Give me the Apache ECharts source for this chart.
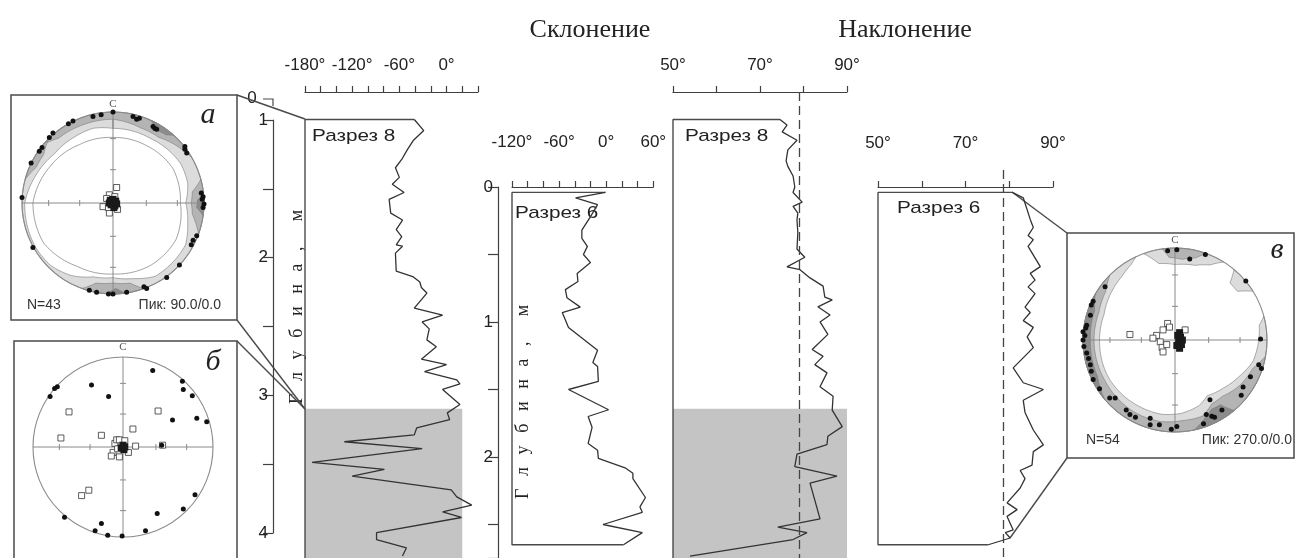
<!DOCTYPE html>
<html><head><meta charset="utf-8">
<script src="https://cdn.jsdelivr.net/npm/echarts@6/dist/echarts.min.js"></script>
<style>html,body{margin:0;padding:0;background:#fff}#c{width:1295px;height:558px}</style>
</head><body><div id="c"></div><script>
// ---------- DATA ----------
// Склонение, Разрез 8 (value deg, depth m)
const dec8Value=[-41,-29,-42,-50,-57,-65,-60,-69,-54,-73,-71,-56,-64,-57,-64,-56,-65,-64,-43,-34,-32,-25,-41,-5,-31,-22,-25,-13,-32,0,-28,13,17,-5,17,1,4,-38,-41,-130,-31,-171,-79,-120,6,13,32,-5,19,-89,-89,-51,-56];
const dec8Depth=[1.00,1.08,1.15,1.22,1.29,1.35,1.42,1.47,1.53,1.58,1.68,1.73,1.80,1.85,1.91,1.92,1.97,2.10,2.14,2.18,2.22,2.26,2.37,2.42,2.47,2.52,2.60,2.65,2.74,2.78,2.83,2.89,2.92,2.96,3.07,3.13,3.18,3.24,3.29,3.34,3.39,3.49,3.54,3.59,3.69,3.74,3.80,3.85,3.89,4.00,4.05,4.11,4.17];
// Склонение, Разрез 6
const dec6Value=[-1,-39,-11,-20,-31,-31,-24,-29,-20,-37,-36,-52,-50,-33,-56,-48,-33,-11,-17,-11,-10,-48,3,-23,-18,-23,-11,-10,24,34,34,50,43,46,-4,46,22];
const dec6Depth=[0.04,0.08,0.13,0.22,0.32,0.38,0.44,0.50,0.56,0.64,0.70,0.76,0.82,0.89,0.93,1.04,1.11,1.21,1.30,1.33,1.44,1.50,1.65,1.70,1.78,1.90,1.95,2.01,2.08,2.12,2.16,2.30,2.37,2.41,2.50,2.56,2.65];
// Наклонение, Разрез 8
const inc8Value=[74.6,76.2,75.1,78.5,76.4,76.0,76.4,77.6,78.0,77.6,79.7,77.6,78.7,78.5,78.7,78.5,80.3,76.2,79.2,81.5,84.5,84.9,86.6,83.3,86.1,83.8,85.6,82.0,84.5,82.6,85.4,83.8,86.8,86.6,88.9,85.6,85.4,78.5,78.0,87.7,81.5,83.8,74.1,80.8,77.6,53.9];
const inc8Depth=[1.00,1.04,1.09,1.15,1.22,1.30,1.34,1.41,1.49,1.53,1.60,1.63,1.68,1.73,1.82,1.94,2.00,2.07,2.09,2.15,2.21,2.29,2.31,2.36,2.42,2.47,2.56,2.67,2.72,2.78,2.84,2.94,3.01,3.11,3.23,3.30,3.36,3.43,3.52,3.59,3.64,3.90,3.96,4.00,4.05,4.17];
// Наклонение, Разрез 6
const inc6Value=[80.7,83.2,84.8,85.5,84.3,85.5,84.3,87.1,84.8,85.9,84.3,85.9,83.6,84.8,83.2,85.5,84.1,85.5,80.9,83.2,87.8,83.2,83.6,85.5,87.8,85.5,85.2,82.5,83.6,82.5,79.5,81.8,79.5,80.9,79.1,80.2,75.2];
const inc6Depth=[0.04,0.08,0.24,0.30,0.36,0.39,0.44,0.59,0.64,0.69,0.74,0.79,0.89,0.93,0.99,1.04,1.11,1.19,1.34,1.45,1.50,1.58,1.67,1.80,1.91,1.96,2.06,2.10,2.16,2.23,2.34,2.39,2.44,2.54,2.56,2.60,2.65];
const inc8Mean=79.0, inc6Mean=78.6;
const shade8Top=3.1, shadeDecRight=20, shadeIncRight=90;
// axis tick labels
const decTicks8=[-180,-120,-60,0];
const decTicks6=[-120,-60,0,60];
const incTicks=[50,70,90];
const depthTicks8=[1,2,3,4];
const depthTicks6=[0,1,2];
// Stereonet а (unit-circle coords)
const dotsA=[[0,1.0],[-0.13,0.97],[-0.22,0.95],[-0.44,0.90],[-0.49,0.87],[-0.66,0.77],[-0.70,0.72],[-0.78,0.61],[-0.81,0.57],[-0.90,0.44],[-1.0,0.06],[-0.88,-0.49],[-0.26,-0.96],[-0.18,-0.98],[-0.05,-1.0],[0,-1.0],[0.15,-0.98],[0.34,-0.92],[0.37,-0.94],[0.59,-0.82],[0.73,-0.68],[0.86,-0.46],[0.88,-0.41],[0.92,-0.36],[0.99,-0.05],[1.0,-0.01],[0.98,0.04],[0.99,0.07],[0.97,0.11],[0.79,0.62],[0.81,0.55],[0.79,0.59],[0.22,0.95],[0.26,0.92],[0.29,0.93],[0.44,0.84],[0.48,0.81],[0.46,0.82]];
const sqA=[[0.04,0.17],[-0.04,0.09],[-0.07,0.05],[0.02,0.07],[-0.11,-0.04],[-0.04,-0.11],[0.05,-0.07],[-0.05,-0.05]];
const sqFillA=[[0,0],[0.03,0.02],[-0.03,0.03],[0.02,-0.03],[-0.02,-0.02],[0.04,-0.01],[-0.04,0],[0,0.04],[0.01,-0.05]];
// Stereonet б
const dotsB=[[0.33,0.85],[0.66,0.73],[0.67,0.64],[0.77,0.57],[-0.35,0.69],[-0.73,0.67],[-0.76,0.65],[-0.81,0.56],[-0.16,0.56],[0.55,0.30],[0.82,0.32],[0.93,0.28],[0.43,0.02],[0.80,-0.53],[0.67,-0.69],[0.38,-0.74],[0.25,-0.93],[-0.01,-0.99],[-0.17,-0.98],[-0.31,-0.93],[-0.24,-0.85],[-0.65,-0.78]];
const sqB=[[-0.60,0.39],[0.39,0.40],[0.11,0.20],[-0.69,0.10],[-0.24,0.13],[0.44,0.02],[0.14,0.01],[-0.38,-0.48],[-0.46,-0.54],[-0.09,0.04],[-0.07,0.08],[-0.04,0.08],[0.02,0.07],[-0.11,-0.06],[-0.13,-0.10],[-0.04,-0.11],[0.06,-0.06],[-0.06,-0.02]];
const sqFillB=[[0,0.02],[0.02,0],[-0.02,-0.01],[0.01,-0.03]];
// Stereonet в
const dotsV=[[-0.08,0.97],[0.02,0.98],[0.16,0.88],[0.33,0.93],[0.77,0.64],[0.93,0.01],[0.91,-0.27],[0.94,-0.31],[0.82,-0.40],[0.74,-0.51],[0.72,-0.60],[0.38,-0.65],[0.51,-0.76],[0.40,-0.83],[0.43,-0.84],[0.31,-0.91],[0.02,-0.94],[-0.04,-0.97],[-0.17,-0.92],[-0.27,-0.85],[-0.27,-0.92],[-0.43,-0.84],[-0.49,-0.81],[-0.53,-0.76],[-0.65,-0.63],[-0.71,-0.63],[-0.82,-0.53],[-0.89,-0.43],[-0.91,-0.34],[-0.92,-0.27],[-0.94,-0.20],[-0.96,-0.14],[-0.99,-0.07],[-1.0,0],[-0.98,0.05],[-1.0,0.09],[-0.96,0.16],[-0.92,0.27],[-0.91,0.38],[-0.89,0.42],[-0.76,0.58],[-0.97,0.13],[0.34,-0.81]];
const sqV=[[-0.49,0.06],[-0.08,0.18],[-0.06,0.14],[-0.13,0.11],[-0.20,0.05],[-0.24,0.02],[-0.16,-0.02],[-0.14,-0.08],[-0.09,-0.05],[-0.13,-0.13],[0.11,0.11]];
const sqFillV=[[0.03,0.05],[0.06,0.03],[0.04,-0.02],[0.07,-0.05],[0.02,-0.06],[0.05,0.08],[0.08,0.0],[0.05,-0.09]];
// density contours: [azimuth deg, inner radius]
const bandsA=[
 {f:'#dcdcdc',p:[[0,0.82],[30,0.82],[60,0.86],[75,0.85],[90,0.80],[105,0.85],[120,0.92],[150,0.93],[165,0.86],[180,0.82],[195,0.84],[210,0.92],[225,0.97],[240,0.98],[270,0.97],[290,0.90],[310,0.84],[330,0.84],[345,0.85],[360,0.82]]},
 {f:'#b4b4b4',p:[[310,1],[320,0.93],[340,0.92],[360,0.92],[380,0.88],[395,0.88],[410,0.95],[420,1]]},
 {f:'#b4b4b4',p:[[75,1],[82,0.88],[90,0.86],[98,0.88],[110,1]]},
 {f:'#b4b4b4',p:[[160,1],[168,0.9],[180,0.88],[192,0.9],[200,1]]},
 {f:'#b4b4b4',p:[[285,1],[295,0.93],[305,0.93],[315,1]]},
 {f:'#8c8c8c',p:[[84,1],[88,0.93],[93,0.92],[98,1]]},
 {f:'#8c8c8c',p:[[385,1],[390,0.93],[398,0.95],[402,1]]},
 {f:'#8c8c8c',p:[[172,1],[178,0.94],[185,1]]}
];
const lineA=[[0,0.72],[30,0.73],[60,0.76],[90,0.74],[120,0.80],[150,0.80],[180,0.78],[210,0.80],[240,0.88],[270,0.88],[300,0.80],[330,0.74],[360,0.72]];
const bandsV=[
 {f:'#dcdcdc',p:[[75,1],[80,0.93],[95,0.9],[105,0.88],[120,0.8],[135,0.74],[150,0.70],[160,0.76],[175,0.80],[190,0.82],[210,0.82],[240,0.83],[270,0.82],[290,0.82],[305,0.86],[320,0.9],[330,0.95],[335,1]]},
 {f:'#dcdcdc',p:[[340,1],[348,0.85],[360,0.82],[375,0.84],[385,0.9],[392,1]]},
 {f:'#dcdcdc',p:[[40,1],[44,0.86],[52,0.86],[58,1]]},
 {f:'#b4b4b4',p:[[100,1],[110,0.9],[125,0.86],[140,0.80],[150,0.80],[160,0.88],[175,0.88],[190,0.9],[210,0.9],[240,0.88],[270,0.88],[290,0.88],[305,0.92],[315,1]]},
 {f:'#b4b4b4',p:[[352,1],[356,0.9],[365,0.88],[374,0.92],[380,1]]},
 {f:'#8c8c8c',p:[[140,1],[145,0.86],[152,0.85],[160,0.92],[168,1]]},
 {f:'#8c8c8c',p:[[230,1],[245,0.93],[270,0.92],[290,0.93],[300,1]]}
];

// ---------- HELPERS ----------
const SANS='"Liberation Sans", Arial, sans-serif';
const SERIF='"Liberation Serif", "Times New Roman", serif';
const INK='#333', AX='#404040';
const pairs=(v,d)=>v.map((x,i)=>[x,d[i]]);
function pol(a,r){const t=a*Math.PI/180;return [r*Math.sin(t),r*Math.cos(t)];}
function dense(p){const out=[];for(let i=0;i<p.length-1;i++){const [a0,r0]=p[i],[a1,r1]=p[i+1];const n=Math.max(1,Math.ceil((a1-a0)/2));for(let k=0;k<n;k++){const t=k/n;out.push([a0+(a1-a0)*t,r0+(r1-r0)*t]);}}out.push(p[p.length-1]);return out;}
function ring(p){const d=dense(p);const pts=d.map(([a,r])=>pol(a,r));const a0=p[0][0],a1=p[p.length-1][0];for(let a=a1;a>=a0-1e-6;a-=2)pts.push(pol(a,1));return pts;}
function bandSeries(g,bands){return {type:'custom',xAxisIndex:g,yAxisIndex:g,z:1,silent:true,clip:false,
 data:bands.map((b,i)=>[0,0,i]),
 renderItem:(params,api)=>{const b=bands[params.dataIndex];return {type:'polygon',shape:{points:ring(b.p).map(q=>api.coord(q))},style:{fill:b.f,stroke:'#7a7a7a',lineWidth:0.6}};}};}
function contourLine(g,p){return {type:'custom',xAxisIndex:g,yAxisIndex:g,z:1,silent:true,clip:false,data:[[0,0]],
 renderItem:(params,api)=>({type:'polyline',shape:{points:dense(p).map(([a,r])=>api.coord(pol(a,r)))},style:{fill:null,stroke:'#7a7a7a',lineWidth:0.7}})};}
function frameSeries(g){return {type:'custom',xAxisIndex:g,yAxisIndex:g,z:2,silent:true,clip:false,data:[[0,0]],
 renderItem:(params,api)=>{const c=api.coord([0,0]);const r=api.coord([1,0])[0]-c[0];const st={stroke:'#8a8a8a',lineWidth:1};
  const ch=[{type:'circle',shape:{cx:c[0],cy:c[1],r:r},style:{fill:null,stroke:'#8a8a8a',lineWidth:1.1}},
   {type:'line',shape:{x1:c[0]-r,y1:c[1],x2:c[0]+r,y2:c[1]},style:st},
   {type:'line',shape:{x1:c[0],y1:c[1]-r,x2:c[0],y2:c[1]+r},style:st}];
  [0.366,0.707].forEach(f=>{const d=f*r;[-1,1].forEach(s=>{ch.push({type:'line',shape:{x1:c[0]+s*d,y1:c[1]-3,x2:c[0]+s*d,y2:c[1]+3},style:st});ch.push({type:'line',shape:{x1:c[0]-3,y1:c[1]+s*d,x2:c[0]+3,y2:c[1]+s*d},style:st});});});
  return {type:'group',children:ch};}};}
function stereoSeries(g,dots,sq,sqf){return [
 {type:'scatter',xAxisIndex:g,yAxisIndex:g,z:4,silent:true,data:sq,symbol:'rect',symbolSize:6,itemStyle:{color:'#fff',borderColor:'#333',borderWidth:0.8,opacity:1}},
 {type:'scatter',xAxisIndex:g,yAxisIndex:g,z:4,silent:true,data:sqf,symbol:'rect',symbolSize:7,itemStyle:{color:'#1a1a1a',opacity:1}},
 {type:'scatter',xAxisIndex:g,yAxisIndex:g,z:5,silent:true,data:dots,symbol:'circle',symbolSize:5,itemStyle:{color:'#111',opacity:1}}];}

function topAxis(g,min,max,interval,labels){return {gridIndex:g,type:'value',position:'top',min,max,interval,
 axisLine:{show:true,lineStyle:{color:AX,width:1.2}},axisTick:{show:true,length:6,lineStyle:{color:AX,width:1.2}},
 axisLabel:{show:true,margin:18,fontSize:17,fontFamily:SANS,color:'#222',formatter:v=>labels.includes(v)?v+'°':''},
 splitLine:{show:false}};}
function hideAxis(g,min,max,inverse){return {gridIndex:g,type:'value',min,max,inverse:!!inverse,show:false,splitLine:{show:false}};}
function depthAxis(g,min,max,labels){return {gridIndex:g,type:'value',position:'left',min,max,interval:0.5,inverse:true,
 axisLine:{show:true,lineStyle:{color:AX,width:1.2}},axisTick:{show:true,length:10,lineStyle:{color:AX,width:1.2}},
 axisLabel:{show:true,margin:5,fontSize:17,fontFamily:SANS,color:'#222',formatter:v=>labels.includes(v)?String(v):''},splitLine:{show:false}};}
function curve(g,v,d,extra){return Object.assign({type:'line',xAxisIndex:g,yAxisIndex:g,data:pairs(v,d),symbol:'none',silent:true,z:3,
 lineStyle:{color:INK,width:1.3},clip:true},extra||{});}
function poly(g,pts,z){return {type:'line',xAxisIndex:g,yAxisIndex:g,data:pts,symbol:'none',silent:true,z:z||3,lineStyle:{color:'#4a4a4a',width:1.4}};}

// depth scales
const d8min=0.8, d8max=0.8+466/137.7;
const d6maxY=(558-187)/135;
const dec6min=-18/135, inc6min=-17/135;

const grids=[
 {left:305,top:92,width:173,height:466},      //0 dec8
 {left:512,top:169,width:141.3,height:389},   //1 dec6
 {left:673,top:92,width:174,height:466},      //2 inc8
 {left:878,top:170,width:175,height:388},     //3 inc6
 {left:273,top:120,width:10,height:413},      //4 depth axis 8
 {left:498,top:187,width:10,height:371},      //5 depth axis 6
 {left:22,top:112,width:182,height:182},      //6 а
 {left:33,top:357,width:180,height:180},      //7 б
 {left:1083,top:248,width:184,height:184}     //8 в
].map(g=>Object.assign({containLabel:false,outerBoundsMode:'none',show:false},g));

const xAxis=[topAxis(0,-180,40,20,decTicks8),topAxis(1,-120,60,20,decTicks6),topAxis(2,50,90,10,incTicks),topAxis(3,50,90,10,incTicks),
 hideAxis(4,0,1),hideAxis(5,0,1),hideAxis(6,-1,1),hideAxis(7,-1,1),hideAxis(8,-1,1)];
const yAxis=[hideAxis(0,d8min,d8max,true),hideAxis(1,dec6min,d6maxY,true),hideAxis(2,d8min,d8max,true),hideAxis(3,inc6min,d6maxY,true),
 depthAxis(4,1,4,depthTicks8),depthAxis(5,0,d6maxY,depthTicks6),hideAxis(6,-1,1),hideAxis(7,-1,1),hideAxis(8,-1,1)];

const last=a=>a[a.length-1];
const series=[
 // shading
 {type:'line',xAxisIndex:0,yAxisIndex:0,data:[],silent:true,z:1,markArea:{silent:true,itemStyle:{color:'#c4c4c4'},data:[[{coord:[-180,shade8Top]},{coord:[shadeDecRight,d8max]}]]}},
 {type:'line',xAxisIndex:2,yAxisIndex:2,data:[],silent:true,z:1,markArea:{silent:true,itemStyle:{color:'#c4c4c4'},data:[[{coord:[50,shade8Top]},{coord:[shadeIncRight,d8max]}]]}},
 // boxes
 poly(0,[[dec8Value[0],dec8Depth[0]],[-180,dec8Depth[0]],[-180,d8max]]),
 poly(2,[[inc8Value[0],inc8Depth[0]],[50,inc8Depth[0]],[50,d8max]]),
 poly(1,[[dec6Value[0],dec6Depth[0]],[-120,dec6Depth[0]],[-120,last(dec6Depth)],[last(dec6Value),last(dec6Depth)]]),
 poly(3,[[inc6Value[0],inc6Depth[0]],[50,inc6Depth[0]],[50,last(inc6Depth)],[last(inc6Value),last(inc6Depth)]]),
 // curves
 curve(0,dec8Value,dec8Depth),
 curve(1,dec6Value,dec6Depth),
 curve(2,inc8Value,inc8Depth,{markLine:{silent:true,symbol:'none',label:{show:false},lineStyle:{color:'#444',width:1.3,type:[9,5]},data:[{xAxis:inc8Mean}]}}),
 curve(3,inc6Value,inc6Depth,{markLine:{silent:true,symbol:'none',label:{show:false},lineStyle:{color:'#444',width:1.3,type:[9,5]},data:[{xAxis:inc6Mean}]}}),
 // stereonets
 bandSeries(6,bandsA),contourLine(6,lineA),frameSeries(6),...stereoSeries(6,dotsA,sqA,sqFillA),
 frameSeries(7),...stereoSeries(7,dotsB,sqB,sqFillB),
 bandSeries(8,bandsV),frameSeries(8),...stereoSeries(8,dotsV,sqV,sqFillV)
];

const T=(x,y,text,font,extra)=>Object.assign({type:'text',x,y,silent:true,style:Object.assign({text,font,fill:'#222',textAlign:'left',textVerticalAlign:'middle'},extra&&extra.style||{})},extra&&extra.el||{});
const L=(pts,w)=>({type:'polyline',silent:true,shape:{points:pts},style:{stroke:'#4a4a4a',lineWidth:w||1.4,fill:null}});
const sp='\u2002\u2009';
const spaced=['Г','л','у','б','и','н','а',','].join(sp)+sp+sp+'м';
const graphic=[
 T(590,30,'Склонение','26px '+SERIF,{style:{textAlign:'center'}}),
 T(905,30,'Наклонение','26px '+SERIF,{style:{textAlign:'center'}}),
 T(312,136,'Разрез 8','17px '+SANS,{el:{scaleX:1.22}}),
 T(685,136,'Разрез 8','17px '+SANS,{el:{scaleX:1.22}}),
 T(515,213,'Разрез 6','17px '+SANS,{el:{scaleX:1.22}}),
 T(897,208,'Разрез 6','17px '+SANS,{el:{scaleX:1.22}}),
 T(297,307,spaced,'18px '+SERIF,{style:{textAlign:'center'},el:{rotation:Math.PI/2}}),
 T(523,402,spaced,'18px '+SERIF,{style:{textAlign:'center'},el:{rotation:Math.PI/2}}),
 T(252,98,'0','17px '+SANS,{style:{textAlign:'center'}}),
 L([[263,99],[273,99],[273,106]],1.2),
 // stereonet boxes
 {type:'rect',silent:true,shape:{x:11,y:95,width:226,height:225},style:{fill:null,stroke:'#4a4a4a',lineWidth:1.5}},
 {type:'rect',silent:true,shape:{x:14,y:341,width:223,height:260},style:{fill:null,stroke:'#4a4a4a',lineWidth:1.5}},
 {type:'rect',silent:true,shape:{x:1067,y:233,width:227,height:225},style:{fill:null,stroke:'#4a4a4a',lineWidth:1.5}},
 // connectors
 L([[237,95],[305,119]]),L([[237,320],[305,409]]),L([[237,341],[305,409]]),
 L([[1012,192],[1067,233]]),L([[1010,538],[1067,458]]),
 // stereonet labels
 T(113,104,'С','11px '+SERIF,{style:{textAlign:'center',fill:'#555'}}),
 T(123,347,'С','11px '+SERIF,{style:{textAlign:'center',fill:'#555'}}),
 T(1175,240,'С','11px '+SERIF,{style:{textAlign:'center',fill:'#555'}}),
 T(208,115,'а','italic 30px '+SERIF,{style:{textAlign:'center'}}),
 T(213,362,'б','italic 30px '+SERIF,{style:{textAlign:'center'}}),
 T(1277,250,'в','italic 30px '+SERIF,{style:{textAlign:'center'}}),
 T(27,305,'N=43','14px '+SANS,{style:{fill:'#333'}}),
 T(221,305,'Пик: 90.0/0.0','14px '+SANS,{style:{fill:'#333',textAlign:'right'}}),
 T(1086,440,'N=54','14px '+SANS,{style:{fill:'#333'}}),
 T(1292,440,'Пик: 270.0/0.0','14px '+SANS,{style:{fill:'#333',textAlign:'right'}})
];

const chart=echarts.init(document.getElementById('c'),null,{renderer:'canvas'});
chart.setOption({animation:false,backgroundColor:'#fff',grid:grids,xAxis,yAxis,series,graphic});
</script></body></html>
